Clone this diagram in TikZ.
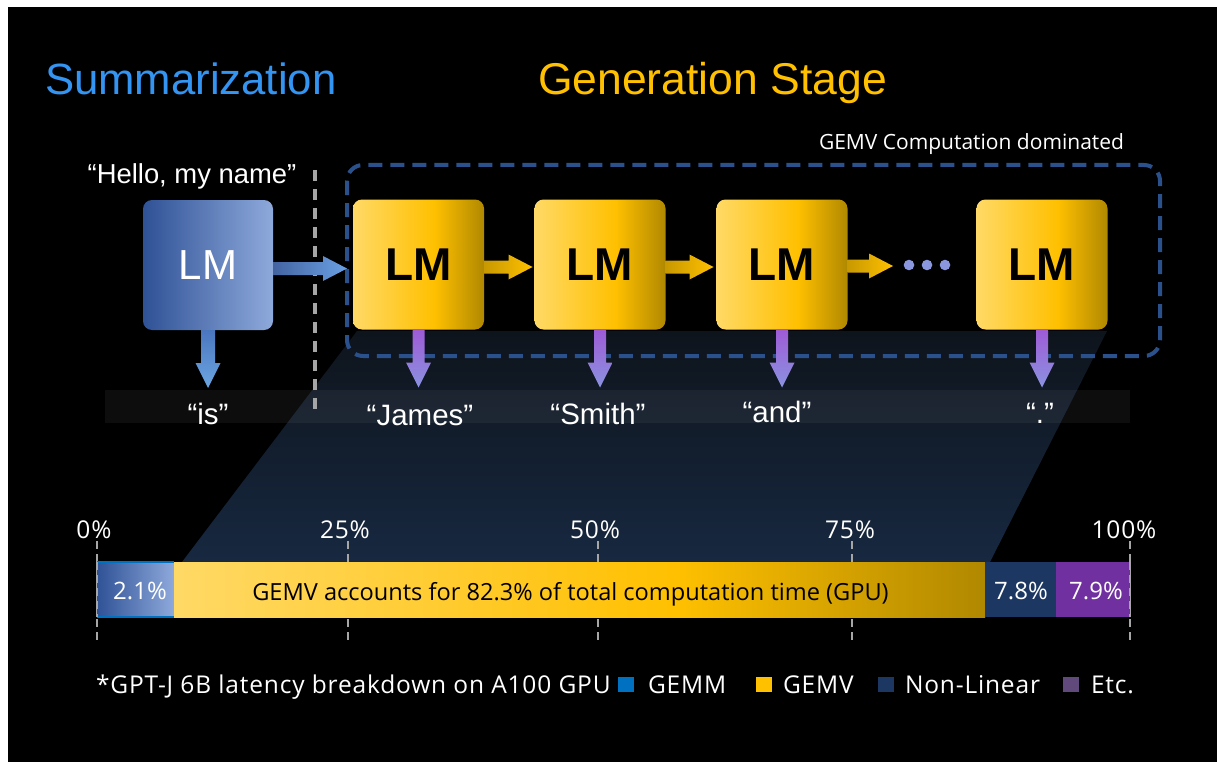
\documentclass[tikz,border=0pt]{standalone}
\usepackage{fontspec}
\setmainfont{Liberation Sans}
\newfontfamily\segoe{Open Sans}
\newfontfamily\segoeW[LetterSpace=3.4]{Open Sans}
\usetikzlibrary{calc}
\newcommand{\setfs}[1]{\fontsize{#1}{#1}\selectfont}
\definecolor{sumblue}{HTML}{3394F2}
\definecolor{genyel}{HTML}{FFC000}
\definecolor{sumL}{HTML}{2F5296}
\definecolor{sumR}{HTML}{8EA9DB}
\definecolor{genL}{HTML}{FFD966}
\definecolor{genM}{HTML}{FFC000}
\definecolor{genR}{HTML}{B08800}
\definecolor{boxdash}{HTML}{2B518C}
\definecolor{sepgray}{HTML}{A6A6A6}
\definecolor{trapT}{HTML}{0E141C}
\definecolor{trapB}{HTML}{172840}
\definecolor{gemmC}{HTML}{0070C0}
\definecolor{nlC}{HTML}{1C3862}
\definecolor{etcC}{HTML}{7030A0}
\definecolor{etcL}{HTML}{604A7B}
\definecolor{dotC}{HTML}{8A97DE}
\definecolor{bdT}{HTML}{4A76C0}
\definecolor{bdB}{HTML}{6CA6E0}
\definecolor{pdT}{HTML}{9E5BD6}
\definecolor{pdB}{HTML}{8A92E0}
\pgfdeclarehorizontalshading{genshade}{100bp}{color(0bp)=(genL); color(25bp)=(genL); color(56bp)=(genM); color(75bp)=(genR); color(100bp)=(genR)}
\newcommand{\harr}[4]{%
  \path[left color=#3, right color=#4] let \p1=(#1), \p2=(#2) in
    (\x1,{\y1+6.5pt}) -- ({\x2-24pt},{\y1+6.5pt}) -- ({\x2-24pt},{\y1+12.5pt}) --
    (\x2,\y1) -- ({\x2-24pt},{\y1-12.5pt}) -- ({\x2-24pt},{\y1-6.5pt}) --
    (\x1,{\y1-6.5pt}) -- cycle;}
\newcommand{\varr}[5]{% from, length, half shaft, top color, bottom color
  \path[top color=#4, bottom color=#5] let \p1=(#1) in
    ({\x1-#3pt},\y1) -- ({\x1+#3pt},\y1) -- ({\x1+#3pt},{\y1-#2pt+25pt}) --
    ({\x1+12.5pt},{\y1-#2pt+25pt}) -- (\x1,{\y1-#2pt}) -- ({\x1-12.5pt},{\y1-#2pt+25pt}) --
    ({\x1-#3pt},{\y1-#2pt+25pt}) -- cycle;}
\begin{document}
\begin{tikzpicture}[x=1pt,y=-1pt,
  every node/.style={inner sep=0pt, outer sep=0pt},
  lmbox/.style={rounded corners=9pt, minimum width=131pt, minimum height=130pt},
  sumbox/.style={lmbox, left color=sumL, right color=sumR, text=white, font={\setfs{42}}},
  genbox/.style={lmbox, shading=genshade, text=black, font={\bfseries\setfs{46}}},
  outlbl/.style={anchor=base, text=white, font={\setfs{29.5}}},
  segtxt/.style={text=white, font={\segoe\setfs{24}}},
  pcttxt/.style={text=white, font={\segoeW\setfs{24.5}}},
  seg/.style={minimum height=55pt, anchor=west},
  tick/.style={draw=sepgray, line width=2.5pt, dash pattern=on 8pt off 5pt},
  legsq/.style={minimum width=16pt, minimum height=15pt},
  legtxt/.style={anchor=base west, text=white, font={\segoeW\setfs{24.5}}}
]
\useasboundingbox (0,0) rectangle (1217,762);
\fill[white] (0,0) rectangle (1217,762);
\fill[black] (8,7) rectangle (1217,762);

% background funnel and band
\shade[top color=trapT, bottom color=trapB] (357,331) -- (1107,331) -- (990,562) -- (182,562) -- cycle;
\fill[white, opacity=0.05] (105,390) rectangle (1130,423);

% titles
\node[anchor=base west, text=sumblue, font={\setfs{43.7}}] (t1) at (45,95) {Summarization};
\node[anchor=base west, text=genyel, font={\setfs{44.5}}] (t2) at (538,95) {Generation Stage};
\node[anchor=base west, text=white, font={\segoe\setfs{21}}] (t3) at (819,150) {GEMV Computation dominated};

% separator and GEMV region
\draw[sepgray, line width=3.5pt, dash pattern=on 11pt off 8pt] (315,170) -- (315,415);
\draw[boxdash, line width=4pt, dash pattern=on 14pt off 8pt, rounded corners=16pt] (347,165) rectangle (1160,356);

% prompt
\node[anchor=base, text=white, font={\setfs{27.4}}] (prompt) at (192,184) {“Hello, my name”};

% LM boxes
\node[sumbox, minimum width=130pt] (s) at (208,265) {LM};
\node[genbox] (g1) at (418.5,264.5) {LM};
\node[genbox] (g2) at (600,264.5) {LM};
\node[genbox] (g3) at (782,264.5) {LM};
\node[genbox] (g4) at (1042,264.5) {LM};

% dots
\coordinate (dots) at (893,266);
\fill[dotC] (909,265) circle (5.3) (927,265) circle (5.3) (945,265) circle (5.3);

% horizontal arrows
\harr{$(s.east)+(0,3.5)$}{$(g1.west)+(-6,3.5)$}{sumL!90!white}{sumR!60!sumblue}
\harr{$(g1.east)+(0,2.5)$}{$(g2.west)+(-2,2.5)$}{genR!70!genM}{genM}
\harr{$(g2.east)+(0,2.5)$}{$(g3.west)+(-3,2.5)$}{genR!70!genM}{genM}
\harr{$(g3.east)+(0,1.5)$}{dots}{genR!70!genM}{genM}

% output labels
\node[outlbl] (o0) at (208,424) {“is”};
\node[outlbl] (o1) at (420,425) {“James”};
\node[outlbl] (o2) at (598,424) {“Smith”};
\node[outlbl] (o3) at (777,422) {“and”};
\node[outlbl] (o4) at (1040,423) {“.”};

% vertical arrows
\varr{s.south}{58}{7}{bdT}{bdB}
\varr{g1.south}{58}{6}{pdT}{pdB}
\varr{g2.south}{58}{6}{pdT}{pdB}
\varr{g3.south}{58}{6}{pdT}{pdB}
\varr{g4.south}{58}{6}{pdT}{pdB}

% percentage axis
\foreach \xx in {97,348,598,852,1130} \draw[tick] (\xx,541) -- (\xx,643);
\node[anchor=base, pcttxt] (p0) at (94,538) {0\%};
\node[anchor=base, pcttxt] (p25) at (345,538) {25\%};
\node[anchor=base, pcttxt] (p50) at (595,538) {50\%};
\node[anchor=base, pcttxt] (p75) at (850,538) {75\%};
\node[anchor=base, pcttxt] (p100) at (1124,538) {100\%};

% bar
\node[seg, minimum width=77pt, left color=sumL, right color=sumR] (gemm) at (97,589.5) {};
\draw[gemmC, line width=2pt] (gemm.north west) -- (gemm.north east) (gemm.south west) -- (gemm.south east);
\node[seg, minimum width=811pt, shading=genshade] (gemv) at (174,589.5) {};
\node[seg, minimum width=71pt, fill=nlC] (nl) at (985,589.5) {};
\node[seg, minimum width=74pt, fill=etcC] (etc) at (1056,589.5) {};
\draw[tick] (97,562) -- (97,617);
\draw[tick] (1130,562) -- (1130,617);
\node[segtxt, anchor=base] (gemmT) at (140,599) {2.1\%};
\node[anchor=base, text=black, font={\segoe\setfs{23.6}}] (gemvT) at (570.5,600) {GEMV accounts for 82.3\% of total computation time (GPU)};
\node[segtxt, anchor=base] (nlT) at (1021,599) {7.8\%};
\node[segtxt, anchor=base] (etcT) at (1096,599) {7.9\%};

% legend
\node[legtxt] (cap) at (96,693) {*GPT-J 6B latency breakdown on A100 GPU};
\node[legsq, fill=gemmC] (lq1) at (626,684.5) {};
\node[legtxt] (l1) at (648,693) {GEMM};
\node[legsq, fill=genyel] (lq2) at (764,684.5) {};
\node[legtxt] (l2) at (783,693) {GEMV};
\node[legsq, fill=nlC] (lq3) at (885.5,684.5) {};
\node[legtxt] (l3) at (905,693) {Non-Linear};
\node[legsq, fill=etcL] (lq4) at (1071,684.5) {};
\node[legtxt] (l4) at (1091,693) {Etc.};
\end{tikzpicture}
\end{document}
